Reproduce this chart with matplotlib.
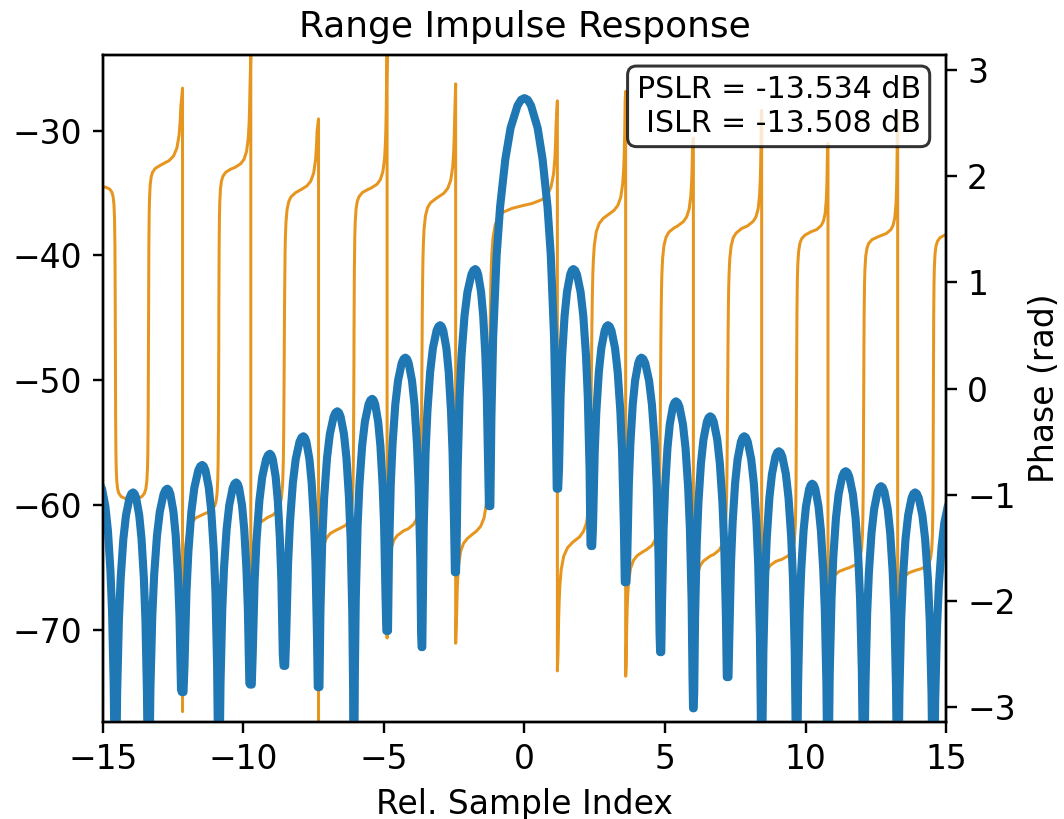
import matplotlib
matplotlib.use("Agg")
import matplotlib.pyplot as plt
import numpy as np

# nulls of the response (the two outer ones sit just outside the view)
null_x = [-15.77, -14.56, -13.38, -12.17, -10.88, -9.74, -8.55, -7.33, -6.07, -4.89, -3.65, -2.45, -1.24,
          1.17, 2.38, 3.60, 4.84, 6.01, 7.23, 8.44, 9.68, 10.80, 12.07, 13.28, 14.55, 15.76]
# magnitude floor at each null in dB (-95 = runs off the bottom of the axes)
null_db = [-95, -95, -95, -75.0, -95, -74.4, -72.9, -74.6, -95, -70.1, -71.4, -65.4, -60.1,
           -58.7, -63.3, -66.2, -71.8, -76.3, -73.8, -95, -95, -95, -95, -95, -95, -95]

# lobe tops between consecutive nulls
peak_x = [-15.15, -13.93, -12.71, -11.47, -10.26, -9.06, -7.87, -6.66, -5.42, -4.24, -3.00, -1.75,
          0.00, 1.74, 2.97, 4.16, 5.39, 6.61, 7.82, 9.05, 10.24, 11.43, 12.69, 13.90, 15.20]
peak_db = [-58.3, -59.0, -58.7, -56.8, -58.2, -55.9, -54.5, -52.5, -51.5, -48.2, -45.6, -41.1,
           -27.4, -41.1, -45.6, -48.2, -51.7, -52.9, -54.5, -55.7, -58.3, -57.3, -58.5, -59.0, -59.6]

# lobe outline in dB below the top, from the null (t=0) to the top (t=1)
lobe_t = [0.0, 0.02, 0.05, 0.1, 0.2, 0.3, 0.45, 0.6, 0.8, 0.9, 1.0]
side_drop = [np.nan, -30.1, -22.1, -16.1, -10.2, -6.9, -3.75, -1.84, -0.44, -0.11, 0.0]
main_drop = [np.nan, -33.8, -25.6, -19.2, -12.6, -8.7, -4.9, -2.4, -0.6, -0.14, 0.0]

# phase: level between nulls, direction and sharpness of the pi turn at each null
seg_phase = [1.95, -1.08, 2.08, -1.15, 2.05, -1.20, 1.85, -1.30, 1.86, -1.33, 1.79, -1.38, 1.72,
             -1.42, 1.64, -1.52, 1.52, -1.57, 1.52, -1.60, 1.47, -1.69, 1.43, -1.70, 1.45]
null_turn = [1, -1, 1, 1, 1, 1, 1, 1, 1, 1, 1, 1, 1,
             1, 1, 1, 1, 1, 1, 1, 1, 1, 1, 1, 1, 1]
null_width = [0.02, 0.01, 0.012, 0.04, 0.012, 0.03, 0.02, 0.035, 0.015, 0.03, 0.025, 0.035, 0.04,
              0.045, 0.035, 0.035, 0.025, 0.03, 0.025, 0.025, 0.015, 0.02, 0.015, 0.02, 0.012, 0.02]
nan = np.nan
# last value before the +pi/-pi wrap and first value after it
wrap_top = [nan, nan, nan, 2.83, nan, 3.14, nan, 2.54, nan, 3.14, nan, 2.87, nan,
            2.71, nan, 2.80, nan, 2.36, nan, 2.62, nan, 2.31, nan, 2.60, nan, nan]
wrap_bottom = [nan, nan, nan, -3.04, nan, -2.60, nan, -3.14, nan, -2.35, nan, -2.40, nan,
               -2.66, nan, -2.71, nan, -2.80, nan, -3.00, nan, -3.00, nan, -3.00, nan, nan]

# shape of a pi turn seen from one side (distance in units of the turn width)
turn_u = np.array([0, 0.25, 0.5, 1, 1.5, 2, 3, 5, 8, 12, 20, 35, 60, 100])
turn_g = np.array([1, 0.844, 0.705, 0.5, 0.374, 0.295, 0.205, 0.126, 0.079, 0.053, 0.032, 0.018, 0.0106, 0.0064])

pslr = -13.534
islr = -13.508


def magnitude_curve():
    xs, ys = [], []
    main = int(np.argmax(peak_db))
    for k in range(len(peak_x)):
        drop = main_drop if k == main else side_drop
        a, b, p = null_x[k], null_x[k + 1], peak_x[k]
        for t, d in zip(lobe_t, drop):
            xs.append(a + t * (p - a))
            ys.append(null_db[k] if t == 0 else max(peak_db[k] + d, null_db[k]))
        for t, d in zip(lobe_t[::-1], drop[::-1]):
            xs.append(b - t * (b - p))
            ys.append(null_db[k + 1] if t == 0 else max(peak_db[k] + d, null_db[k + 1]))
    return np.array(xs), np.array(ys)


def phase_segment(k):
    a, b = null_x[k], null_x[k + 1]
    wa, wb = null_width[k], null_width[k + 1]
    mid = 0.5 * (a + b)
    xl = a + wa * turn_u
    xr = b - wb * turn_u
    xs = np.sort(np.concatenate([xl[xl < mid], [mid], xr[xr > mid]]))
    gl = np.interp((xs - a) / wa, turn_u, turn_g)
    gr = np.interp((b - xs) / wb, turn_u, turn_g)
    ys = seg_phase[k] - null_turn[k] * np.pi / 2 * gl + null_turn[k + 1] * np.pi / 2 * gr
    return xs, ys


def phase_curve():
    xs, ys = [], []
    for k in range(len(seg_phase)):
        sx, sy = phase_segment(k)
        if not np.isnan(wrap_bottom[k]):
            keep = sy >= wrap_bottom[k]
            sx, sy = sx[keep], sy[keep]
            xs.append([null_x[k]])
            ys.append([wrap_bottom[k]])
        if not np.isnan(wrap_top[k + 1]):
            keep = sy <= wrap_top[k + 1]
            sx = np.append(sx[keep], null_x[k + 1])
            sy = np.append(sy[keep], wrap_top[k + 1])
        xs.append(sx)
        ys.append(sy)
    return np.concatenate(xs), np.concatenate(ys)


dpi = 216
fig = plt.figure(figsize=(1064 / dpi, 819 / dpi), dpi=dpi)
ax1 = fig.add_axes([0.0968, 0.1184, 0.7923, 0.8144])
ax2 = ax1.twinx()
ax1.set_zorder(ax2.get_zorder() + 1)
ax1.patch.set_visible(False)

mx, my = magnitude_curve()
phx, phy = phase_curve()

ax2.plot(phx, phy, color="#e6951f", lw=1.0)
ax1.plot(mx, my, color="#1f77b4", lw=2.7)

ax1.set_xlim(-15, 15)
ax1.set_ylim(-77.4, -23.95)
ax2.set_ylim(-np.pi, np.pi)
ax1.set_xticks([-15, -10, -5, 0, 5, 10, 15])
ax1.set_yticks([-70, -60, -50, -40, -30])
ax2.set_yticks([-3, -2, -1, 0, 1, 2, 3])
for ax in (ax1, ax2):
    ax.tick_params(labelsize=11)

ax1.set_title("Range Impulse Response", fontsize=12)
ax1.set_xlabel("Rel. Sample Index", fontsize=11)
ax2.set_ylabel("Phase (rad)", fontsize=11)

ax2.text(0.97, 0.97, f"PSLR = {pslr:.3f} dB\nISLR = {islr:.3f} dB",
         transform=ax2.transAxes, ha="right", va="top", fontsize=10,
         bbox=dict(boxstyle="round", facecolor="white", alpha=0.8))

fig.savefig("out.png", dpi=dpi)
